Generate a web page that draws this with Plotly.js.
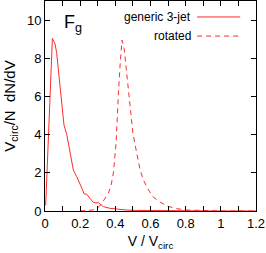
<!DOCTYPE html>
<html>
<head>
<meta charset="utf-8">
<script src="https://cdn.plot.ly/plotly-3.0.1.min.js"></script>
<style>html,body{margin:0;padding:0;background:#fff;}#chart{width:266px;height:253px;}</style>
</head>
<body>
<div id="chart"></div>
<script>
const genericV = [0.004, 0.013, 0.028, 0.042, 0.050, 0.057, 0.066, 0.080, 0.095, 0.108, 0.124, 0.142, 0.161, 0.180, 0.199, 0.212, 0.222, 0.237, 0.256, 0.275, 0.290, 0.304, 0.313, 0.332, 0.37, 0.408, 0.465, 0.52, 0.6, 0.7, 0.8, 0.9, 1.0, 1.1, 1.2];
const genericY = [0.3, 2.5, 5.8, 9.04, 8.9, 8.75, 8.3, 6.9, 5.46, 4.5, 4.0, 3.0, 2.15, 1.8, 1.45, 1.15, 0.9, 0.88, 0.66, 0.45, 0.42, 0.44, 0.37, 0.23, 0.14, 0.09, 0.05, 0.03, 0.02, 0.01, 0.01, 0.0, 0.0, 0.0, 0.0];
const rotatedV = [0.2, 0.24, 0.27, 0.29, 0.31, 0.323, 0.34, 0.36, 0.375, 0.389, 0.404, 0.412, 0.418, 0.427, 0.438, 0.45, 0.465, 0.48, 0.5, 0.522, 0.541, 0.56, 0.583, 0.613, 0.651, 0.693, 0.75, 0.807, 0.88, 0.95, 1.0, 1.1, 1.2];
const rotatedY = [0.0, 0.02, 0.05, 0.1, 0.25, 0.4, 0.65, 0.93, 1.3, 2.0, 3.54, 5.6, 6.25, 7.64, 8.95, 8.52, 7.12, 5.55, 4.07, 3.02, 2.15, 1.62, 1.19, 0.75, 0.49, 0.26, 0.12, 0.05, 0.02, 0.01, 0, 0, 0];
const seriesNames = ["generic 3-jet", "rotated"];
const panelLabel = "F<sub>g</sub>";
const xTickVals = [0, 0.2, 0.4, 0.6, 0.8, 1, 1.2];
const xTickText = ["0", "0.2", "0.4", "0.6", "0.8", "1", "1.2"];
const yTickVals = [0, 2, 4, 6, 8, 10];

const red = "#ff2a2a";
const font = "Liberation Sans, Arial, sans-serif";
const dashStyle = "5px,4px";

const traces = [
  {x: genericV, y: genericY, mode: "lines", name: seriesNames[0], line: {color: red, width: 1}},
  {x: rotatedV, y: rotatedY, mode: "lines", name: seriesNames[1], line: {color: red, width: 1, dash: dashStyle}}
];

const layout = {
  width: 266, height: 253,
  margin: {l: 45, r: 10, t: 1, b: 42},
  showlegend: false,
  paper_bgcolor: "#fff", plot_bgcolor: "#fff",
  font: {family: font, size: 13, color: "#000"},
  xaxis: {
    range: [0, 1.2], tickvals: xTickVals, ticktext: xTickText,
    ticks: "inside", ticklen: 5, tickcolor: "#000", showline: true, linecolor: "#000", linewidth: 1, mirror: "ticks",
    showgrid: false, zeroline: false,
    minor: {dtick: 0.1, tick0: 0, ticks: "inside", ticklen: 5, tickcolor: "#000"},
    tickfont: {size: 13},
    title: {text: "V / V<sub>circ</sub>", font: {size: 14}, standoff: 6}
  },
  yaxis: {
    range: [0, 11], tickvals: yTickVals,
    ticks: "inside", ticklen: 5, tickcolor: "#000", showline: true, linecolor: "#000", linewidth: 1, mirror: "ticks",
    showgrid: false, zeroline: false,
    tickfont: {size: 13},
    title: {text: "V<sub>circ</sub>/N  dN/dV", font: {size: 15}, standoff: 7}
  },
  annotations: [
    {xref: "paper", yref: "paper", x: 0.702, y: 0.924, xanchor: "right", yanchor: "middle", text: seriesNames[0], showarrow: false, font: {size: 12}},
    {xref: "paper", yref: "paper", x: 0.702, y: 0.833, xanchor: "right", yanchor: "middle", text: seriesNames[1], showarrow: false, font: {size: 12}},
    {xref: "paper", yref: "paper", x: 0.08, y: 0.895, xanchor: "left", yanchor: "middle", text: panelLabel, showarrow: false, font: {size: 18}}
  ],
  shapes: [
    {type: "line", xref: "paper", yref: "paper", x0: 0.721, x1: 0.925, y0: 0.924, y1: 0.924, line: {color: red, width: 1}},
    {type: "line", xref: "paper", yref: "paper", x0: 0.721, x1: 0.925, y0: 0.833, y1: 0.833, line: {color: red, width: 1, dash: dashStyle}}
  ]
};

Plotly.newPlot("chart", traces, layout, {displayModeBar: false, staticPlot: true});
</script>
</body>
</html>
